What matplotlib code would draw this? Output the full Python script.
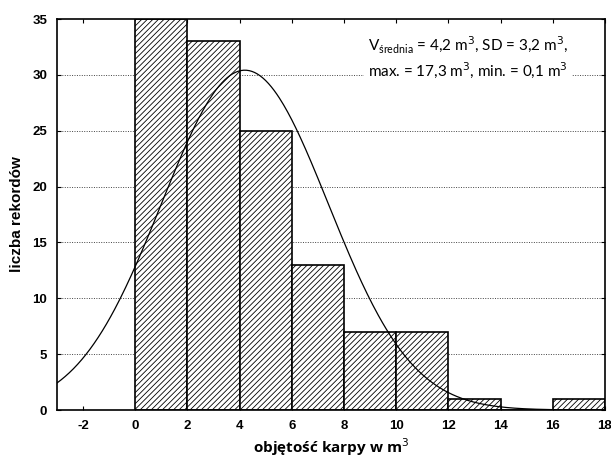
import numpy as np
import matplotlib
matplotlib.use("Agg")
import matplotlib.pyplot as plt

plt.rcParams["hatch.linewidth"] = 0.6
plt.rcParams["axes.unicode_minus"] = False

bin_edges = [0, 2, 4, 6, 8, 10, 12, 14, 16, 18]
counts = [35, 33, 25, 13, 7, 7, 1, 0, 1]
mean_v = 4.2
sd_v = 3.2
n_total = sum(counts)
bin_width = 2

x_ticks = [-2, 0, 2, 4, 6, 8, 10, 12, 14, 16, 18]
y_ticks = [0, 5, 10, 15, 20, 25, 30, 35]

fig = plt.figure(figsize=(6.11, 4.58), dpi=100)
ax = fig.add_axes([0.0933, 0.1048, 0.8967, 0.8537])

for y in y_ticks[1:-1]:
    ax.axhline(y, color="#444444", lw=0.7, ls=(0, (1, 1.5)), zorder=0)

left = bin_edges[:-1]
ax.bar(left, counts, width=bin_width, align="edge", color="white",
       edgecolor="black", linewidth=1.2, hatch="//////", zorder=2)

xs = np.linspace(-3, 18, 400)
ys = n_total * bin_width / (sd_v * np.sqrt(2 * np.pi)) * np.exp(-0.5 * ((xs - mean_v) / sd_v) ** 2)
ax.plot(xs, ys, color="black", lw=0.9, zorder=3)

ax.set_xlim(-3, 18)
ax.set_ylim(0, 35)
ax.set_xticks(x_ticks)
ax.set_yticks(y_ticks)
ax.tick_params(direction="in", top=True, right=True, length=3, width=0.8,
               labelsize=9.5, pad=7)
for lab in ax.get_xticklabels() + ax.get_yticklabels():
    lab.set_fontweight("bold")
    lab.set_family("Liberation Sans")
for sp in ax.spines.values():
    sp.set_linewidth(1.2)

ax.set_xlabel("objętość karpy w m$^3$", fontsize=11, fontweight="bold",
              family="Open Sans", labelpad=3)
ax.set_ylabel("liczba rekordów", fontsize=11, fontweight="bold",
              family="Liberation Sans", labelpad=6)

ax.text(0.567, 0.96,
        "V$_{\\mathregular{średnia}}$ = 4,2 m$^3$, SD = 3,2 m$^3$,\nmax. = 17,3 m$^3$, min. = 0,1 m$^3$",
        transform=ax.transAxes, fontsize=11, family="Lato",
        va="top", ha="left", linespacing=1.3,
        bbox=dict(facecolor="white", edgecolor="none", pad=3), zorder=4)

fig.savefig("out.png", dpi=100)
